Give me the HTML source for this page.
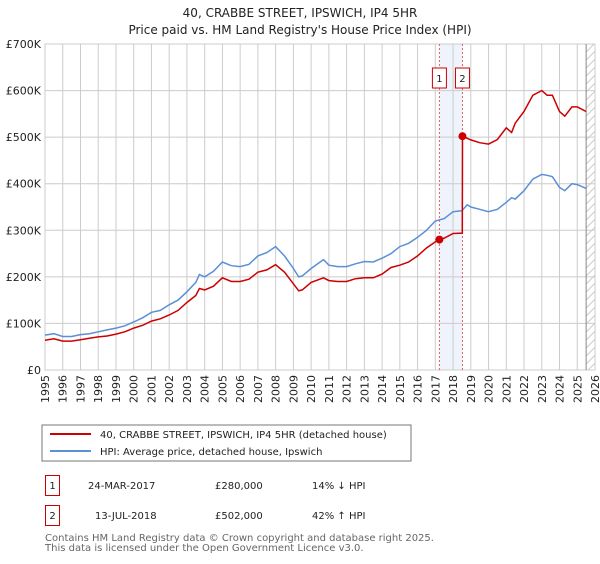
<!DOCTYPE html>
<html><head><meta charset="utf-8"><style>
body{margin:0;background:#fff;width:600px;height:560px;overflow:hidden;font-family:"DejaVu Sans","Liberation Sans",sans-serif;}
svg text{font-family:"DejaVu Sans","Liberation Sans",sans-serif;}
</style></head><body>
<svg id="c" width="600" height="560" xmlns="http://www.w3.org/2000/svg">
<text x="300" y="17" text-anchor="middle" font-size="12" fill="#222">40, CRABBE STREET, IPSWICH, IP4 5HR</text>
<text x="300" y="34" text-anchor="middle" font-size="12" fill="#222">Price paid vs. HM Land Registry's House Price Index (HPI)</text>
<g id="grid"></g><g id="marks"></g>
<rect x="42" y="425" width="369" height="36" fill="#fff" stroke="#777"/>
<line x1="50" y1="434" x2="91" y2="434" stroke="#cc0000" stroke-width="2"/>
<text x="100" y="438" font-size="10" fill="#222">40, CRABBE STREET, IPSWICH, IP4 5HR (detached house)</text>
<line x1="50" y1="451" x2="91" y2="451" stroke="#5b8fd6" stroke-width="2"/>
<text x="100" y="455" font-size="10" fill="#222">HPI: Average price, detached house, Ipswich</text>
<g>
<rect x="45.5" y="475.5" width="14" height="20" fill="#fff" stroke="#cc0000"/>
<text x="52.5" y="489" text-anchor="middle" font-size="10" fill="#222">1</text>
<text x="88" y="489" font-size="10" fill="#222">24-MAR-2017</text>
<text x="215" y="489" font-size="10" fill="#222">£280,000</text>
<text x="312" y="489" font-size="10" fill="#222">14% ↓ HPI</text></g>
<g>
<rect x="45.5" y="505.5" width="14" height="20" fill="#fff" stroke="#cc0000"/>
<text x="52.5" y="519" text-anchor="middle" font-size="10" fill="#222">2</text>
<text x="95" y="519" font-size="10" fill="#222">13-JUL-2018</text>
<text x="215" y="519" font-size="10" fill="#222">£502,000</text>
<text x="312" y="519" font-size="10" fill="#222">42% ↑ HPI</text></g>
<text x="45" y="541" font-size="10" fill="#666">Contains HM Land Registry data © Crown copyright and database right 2025.</text>
<text x="45" y="551" font-size="10" fill="#666">This data is licensed under the Open Government Licence v3.0.</text>
</svg>
<script>
const hpiYears=[1995,1995.5,1996,1996.5,1997,1997.5,1998,1998.5,1999,1999.5,2000,2000.5,2001,2001.5,2002,2002.5,2003,2003.5,2003.7,2004,2004.5,2005,2005.5,2006,2006.5,2007,2007.5,2008,2008.5,2009,2009.3,2009.5,2010,2010.7,2011,2011.5,2012,2012.5,2013,2013.5,2014,2014.5,2015,2015.5,2016,2016.5,2017,2017.5,2018,2018.5,2018.8,2019,2019.5,2020,2020.5,2021,2021.3,2021.5,2022,2022.5,2023,2023.3,2023.6,2024,2024.3,2024.7,2025,2025.5];
const hpiValues=[75,78,72,72,76,78,82,86,90,95,103,112,124,128,140,150,168,188,205,200,212,232,224,222,227,245,252,265,245,218,200,202,218,237,225,222,222,228,233,232,240,250,265,272,285,300,320,325,340,342,355,350,345,340,345,360,370,367,385,410,420,418,415,392,385,400,398,390];
const propYears=[1995,1995.5,1996,1996.5,1997,1997.5,1998,1998.5,1999,1999.5,2000,2000.5,2001,2001.5,2002,2002.5,2003,2003.5,2003.7,2004,2004.5,2005,2005.5,2006,2006.5,2007,2007.5,2008,2008.5,2009,2009.3,2009.5,2010,2010.7,2011,2011.5,2012,2012.5,2013,2013.5,2014,2014.5,2015,2015.5,2016,2016.5,2017,2017.23,2017.5,2018,2018.52,2018.53,2019,2019.5,2020,2020.5,2021,2021.3,2021.5,2022,2022.5,2023,2023.3,2023.6,2024,2024.3,2024.7,2025,2025.5];
const propValues=[64,67,62,62,65,68,71,73,77,82,90,96,105,110,118,128,145,160,175,172,180,198,190,190,195,210,215,226,210,185,170,172,188,198,192,190,190,196,198,198,206,220,225,232,245,262,275,280,283,293,294,502,494,488,485,495,520,510,530,555,590,600,590,590,555,545,565,565,555];
const saleYears=[2017.23,2018.53];
const saleValues=[280,502];
const saleLabels=["1","2"];
const yTicks=[0,100,200,300,400,500,600,700];
const yTickLabels=["£0","£100K","£200K","£300K","£400K","£500K","£600K","£700K"];
const xTicks=[1995,1996,1997,1998,1999,2000,2001,2002,2003,2004,2005,2006,2007,2008,2009,2010,2011,2012,2013,2014,2015,2016,2017,2018,2019,2020,2021,2022,2023,2024,2025,2026];
const NS="http://www.w3.org/2000/svg";
const L=45,R=595,T=44,B=370;
const xs=y=>L+(y-1995)*(R-L)/31;
const ys=v=>B-v*(B-T)/700;
function mk(p,t,a){const e=document.createElementNS(NS,t);for(const k in a)e.setAttribute(k,a[k]);p.appendChild(e);return e;}
const g=document.getElementById('grid'),m=document.getElementById('marks');
// shaded sale span
const sh=mk(g,'rect',{x:xs(saleYears[0]),y:T,width:xs(saleYears[1])-xs(saleYears[0]),height:B-T,fill:'#eef3fc'});


yTicks.forEach((v,i)=>{
 const l=mk(g,'line',{x1:L,x2:R,y1:ys(v),y2:ys(v),stroke:'#ccc'});
 
 
 const t=mk(g,'text',{x:L-4,y:ys(v)+4,'text-anchor':'end','font-size':'11',fill:'#222'});
 t.textContent=yTickLabels[i];
 
 
});
xTicks.forEach(y=>{
 const l=mk(g,'line',{x1:xs(y),x2:xs(y),y1:T,y2:B,stroke:'#ccc'});
 
 
 const t=mk(g,'text',{x:0,y:0,'text-anchor':'end','font-size':'11',fill:'#222',transform:`translate(${xs(y)+4},${B+5}) rotate(-90)`});
 t.textContent=y;
 
 
});
mk(g,'rect',{x:L,y:T,width:R-L,height:B-T,fill:'none',stroke:'#ccc'});
// hatch future
const hx=xs(2025.5);
const hp=mk(g,'path',{d:(()=>{let d='';for(let y=T;y<B+20;y+=8){d+=`M${hx},${y} L${R},${y-(R-hx)}`;}return d;})(),stroke:'#ccc','stroke-width':1,'clip-path':'url(#hc)'});
const cp=mk(g,'clipPath',{id:'hc'});mk(cp,'rect',{x:hx,y:T,width:R-hx,height:B-T});


mk(g,'line',{x1:hx,x2:hx,y1:T,y2:B,stroke:'#888'});
saleYears.forEach((y,i)=>{
 const l=mk(g,'line',{x1:xs(y),x2:xs(y),y1:T,y2:B,stroke:'#e06060','stroke-dasharray':'2,2'});
 
 
});
const pts=(X,Y)=>X.map((x,i)=>xs(x).toFixed(1)+','+ys(Y[i]).toFixed(1)).join(' ');
const hl=mk(m,'polyline',{points:pts(hpiYears,hpiValues),fill:'none',stroke:'#5b8fd6','stroke-width':1.5});


const pl=mk(m,'polyline',{points:pts(propYears,propValues),fill:'none',stroke:'#cc0000','stroke-width':1.5});


saleYears.forEach((y,i)=>{
 const c=mk(m,'circle',{cx:xs(y),cy:ys(saleValues[i]),r:4,fill:'#cc0000'});
 
 
 const bx=mk(m,'rect',{x:xs(y)-7,y:68,width:14,height:20,fill:'#fff',stroke:'#cc0000'});
 
 
 const t=mk(m,'text',{x:xs(y),y:82,'text-anchor':'middle','font-size':'10',fill:'#222'});
 t.textContent=saleLabels[i];
 
 
});
</script>
</body></html>
